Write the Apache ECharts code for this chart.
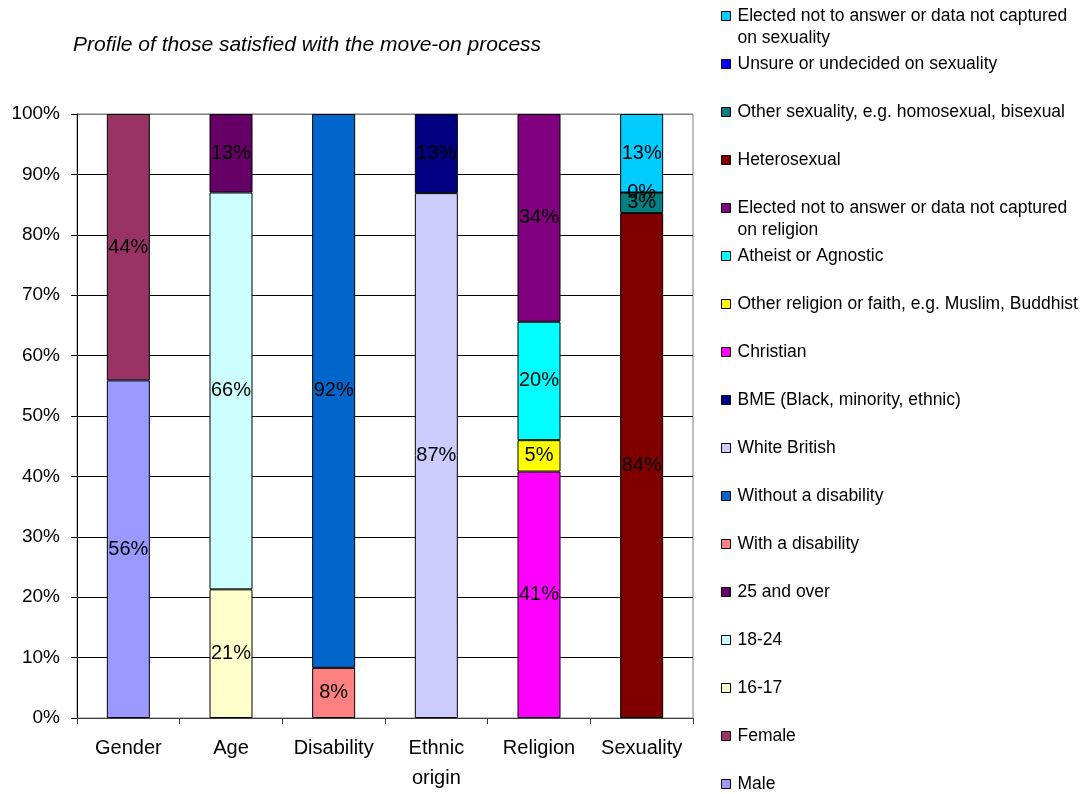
<!DOCTYPE html>
<html>
<head>
<meta charset="utf-8">
<script src="https://cdn.jsdelivr.net/npm/echarts@6/dist/echarts.min.js"></script>
<style>
  html, body { margin: 0; padding: 0; background: #fff; }
  #chart { width: 1082px; height: 794px; }
</style>
</head>
<body>
<div id="chart"></div>
<script>
const categories = ['Gender', 'Age', 'Disability', 'Ethnic origin', 'Religion', 'Sexuality'];
const yTicks = [0, 10, 20, 30, 40, 50, 60, 70, 80, 90, 100];

const seriesNames = [
  'Male',
  'Female',
  '16-17',
  '18-24',
  '25 and over',
  'With a disability',
  'Without a disability',
  'White British',
  'BME (Black, minority, ethnic)',
  'Christian',
  'Other religion or faith, e.g. Muslim, Buddhist',
  'Atheist or Agnostic',
  'Elected not to answer or data not captured on religion',
  'Heterosexual',
  'Other sexuality, e.g. homosexual, bisexual',
  'Unsure or undecided on sexuality',
  'Elected not to answer or data not captured on sexuality'
];
// index into categories for each series
const seriesCategory = [0, 0, 1, 1, 1, 2, 2, 3, 3, 4, 4, 4, 4, 5, 5, 5, 5];
// percentage values
const seriesValues = [55.9, 44.1, 21.3, 65.7, 13.0, 8.3, 91.7, 86.9, 13.1, 40.8, 5.2, 19.6, 34.4, 83.6, 3.4, 0, 13.0];

const seriesColors = [
  '#9999FF', '#993366', '#FFFFCC', '#CCFFFF', '#660066', '#FF8080', '#0066CC',
  '#CCCCFF', '#000080', '#FF00FF', '#FFFF00', '#00FFFF', '#800080', '#800000',
  '#008080', '#0000FF', '#00CCFF'
];

// legend display lines (two-line entries wrap like the original)
const legendLines = {
  'Elected not to answer or data not captured on religion': ['Elected not to answer or data not captured', 'on religion'],
  'Elected not to answer or data not captured on sexuality': ['Elected not to answer or data not captured', 'on sexuality']
};

const FONT = "'Liberation Sans', Arial, sans-serif";

const series = seriesNames.map((name, i) => ({
  name: name,
  type: 'bar',
  stack: 'all',
  barWidth: 43,
  color: seriesColors[i],
  itemStyle: { color: seriesColors[i], borderColor: '#000', borderWidth: 1 },
  label: {
    show: true,
    position: 'inside',
    color: '#000',
    fontFamily: FONT,
    fontSize: 20,
    formatter: p => Math.round(p.value) + '%'
  },
  emphasis: { disabled: true },
  data: categories.map((c, j) => j === seriesCategory[i] ? seriesValues[i] : '-')
}));

const legendOrder = seriesNames.slice().reverse();
const legends = legendOrder.map((name, k) => {
  const twoLine = !!legendLines[name];
  const center = 16 + 48 * k;
  return {
    data: [name],
    orient: 'vertical',
    left: 721,
    top: twoLine ? center - 33 : center - 11,
    padding: 0,
    itemWidth: 9,
    itemHeight: 9,
    icon: 'rect',
    selectedMode: false,
    itemStyle: { borderColor: '#000', borderWidth: 1 },
    formatter: n => legendLines[n] ? '\n' + legendLines[n].join('\n') : n,
    textStyle: {
      fontFamily: FONT,
      fontSize: 17.5,
      color: '#000',
      lineHeight: 22,
      padding: [0, 0, 0, 2]
    }
  };
});

const gridColors = yTicks.map((v, i) => i === yTicks.length - 1 ? '#808080' : '#000');

const option = {
  animation: false,
  backgroundColor: '#fff',
  title: {
    text: 'Profile of those satisfied with the move-on process',
    left: 73,
    top: 35,
    padding: 0,
    textStyle: { fontFamily: FONT, fontSize: 21, fontStyle: 'italic', fontWeight: 'normal', color: '#000' }
  },
  legend: legends,
  grid: {
    left: 77, right: 389, top: 114, bottom: 76,
    show: true, borderColor: '#808080', borderWidth: 1, backgroundColor: '#fff'
  },
  xAxis: {
    type: 'category',
    data: categories,
    axisLine: { show: true, lineStyle: { color: '#404040', width: 1 } },
    axisTick: { show: true, length: 6, lineStyle: { color: '#404040' } },
    axisLabel: {
      interval: 0,
      margin: 15,
      color: '#000',
      fontFamily: FONT,
      fontSize: 20,
      lineHeight: 30,
      formatter: v => v.replace(' ', '\n')
    },
    splitLine: { show: false }
  },
  yAxis: {
    type: 'value',
    min: 0,
    max: 100,
    interval: 10,
    axisLine: { show: true, lineStyle: { color: '#000', width: 1 } },
    axisTick: { show: true, length: 6, lineStyle: { color: '#000' } },
    axisLabel: { margin: 17, color: '#000', fontFamily: FONT, fontSize: 19, formatter: '{value}%' },
    splitLine: { show: true, lineStyle: { color: gridColors, width: 1 } }
  },
  series: series
};

const chart = echarts.init(document.getElementById('chart'), null, { renderer: 'canvas' });
chart.setOption(option);
</script>
</body>
</html>
